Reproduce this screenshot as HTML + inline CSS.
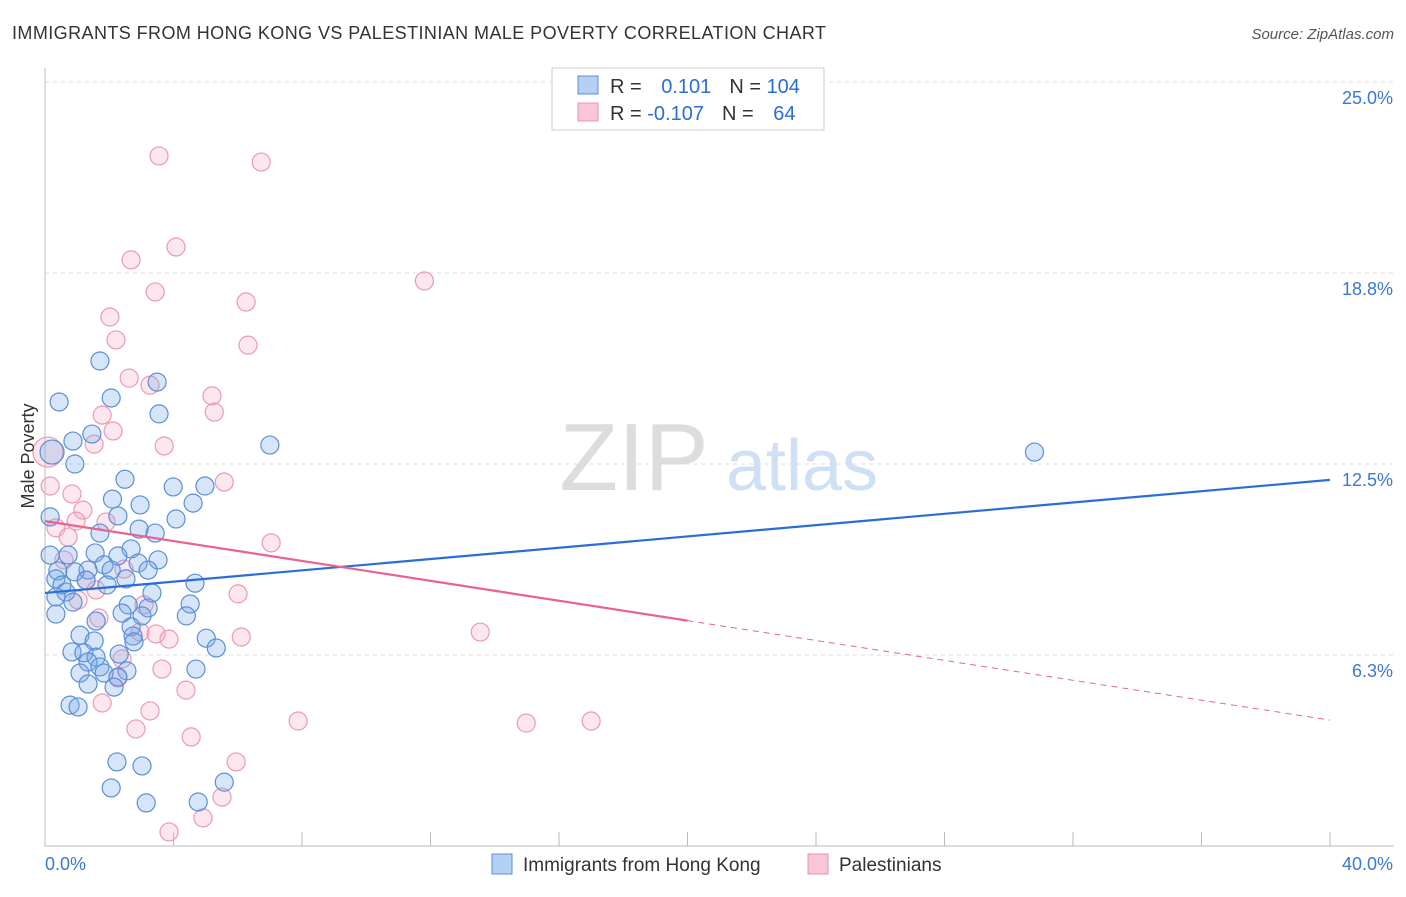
<!DOCTYPE html>
<html><head><meta charset="utf-8"><style>
body{margin:0;background:#fff;font-family:"Liberation Sans",sans-serif;}
svg text{font-family:"Liberation Sans",sans-serif;}
</style></head><body>
<svg id="chart" width="1406" height="892" xmlns="http://www.w3.org/2000/svg">
<text x="12" y="39" font-size="18" fill="#333" textLength="814">IMMIGRANTS FROM HONG KONG VS PALESTINIAN MALE POVERTY CORRELATION CHART</text>
<text x="1394" y="39" font-size="15" fill="#555" font-style="italic" text-anchor="end">Source: ZipAtlas.com</text>
<g>
<text x="634" y="490" font-size="96" fill="#ddd" font-family="Liberation Serif" text-anchor="middle">ZIP</text>
<text x="802" y="490" font-size="72" fill="#cfe0f5" text-anchor="middle">atlas</text>
</g>
<g id="grid"></g>
<g id="axes"></g>
<g id="pts"></g>
<g id="trends"></g>
<text transform="translate(34,456) rotate(-90)" font-size="18" fill="#333" text-anchor="middle">Male Poverty</text>
<g>
<rect x="552" y="68" width="272" height="62" fill="#fff" stroke="#ccc"/>
<rect x="578" y="76" width="20" height="18" fill="#b5d0f5" stroke="#5b8fd9"/>
<rect x="578" y="103" width="20" height="18" fill="#f9c6d5" stroke="#e891aa"/>
<text x="610" y="93" font-size="20" fill="#333">R = <tspan fill="#2a6dd6" dx="14">0.101</tspan><tspan dx="18" fill="#333">N = </tspan><tspan fill="#2a6dd6">104</tspan></text>
<text x="610" y="120" font-size="20" fill="#333">R = <tspan fill="#2a6dd6">-0.107</tspan><tspan dx="18" fill="#333">N = </tspan><tspan fill="#2a6dd6" dx="14">64</tspan></text>
</g>
<g>
<rect x="492" y="854" width="20" height="20" fill="#b5d0f5" stroke="#5b8fd9"/>
<text x="523" y="871" font-size="19" fill="#333">Immigrants from Hong Kong</text>
<rect x="808" y="854" width="20" height="20" fill="#f9c6d5" stroke="#e891aa"/>
<text x="839" y="871" font-size="19" fill="#333">Palestinians</text>
</g>
</svg>
<script>
const yTicks=[25,18.75,12.5,6.25];
const yTickLabels=["25.0%","18.8%","12.5%","6.3%"];
const xTickVals=[0,4,8,12,16,20,24,28,32,36,40];
const blueX=[1.71,0.44,2.06,3.49,3.55,0.87,1.46,0.93,7.0,30.8,2.49,2.1,2.96,3.99,4.98,4.61,4.08,2.27,0.16,2.93,3.43,1.71,2.68,3.52,0.72,1.56,2.27,0.16,1.84,2.9,1.34,0.4,0.93,2.06,3.21,0.34,1.28,2.52,0.53,1.93,4.67,0.65,0.34,0.87,3.33,4.52,2.59,3.21,0.34,2.4,3.02,4.4,1.59,2.68,1.09,5.02,1.53,2.74,2.77,5.33,0.84,1.21,1.59,1.34,2.31,1.71,4.7,1.09,1.84,2.55,2.27,1.34,2.15,0.78,1.03,2.24,3.02,2.06,3.15,4.77,5.58,0.22];
const blueY=[15.87,14.53,14.66,15.18,14.14,13.25,13.48,12.5,13.12,12.89,12.0,11.35,11.16,11.75,11.78,11.22,10.7,10.8,10.77,10.37,10.24,10.24,9.72,9.36,9.52,9.59,9.49,9.52,9.2,9.26,9.03,9.0,8.97,9.03,9.03,8.74,8.7,8.74,8.54,8.54,8.6,8.31,8.15,7.98,8.28,7.92,7.89,7.79,7.59,7.62,7.53,7.53,7.36,7.17,6.9,6.8,6.71,6.87,6.68,6.48,6.35,6.32,6.18,6.02,6.28,5.86,5.79,5.66,5.66,5.73,5.53,5.3,5.2,4.61,4.55,2.75,2.62,1.9,1.41,1.44,2.09,12.89];
const pinkX=[3.55,6.73,4.08,2.68,11.81,3.43,6.26,2.02,6.32,2.21,2.62,3.27,5.2,5.27,1.78,2.12,3.71,1.53,0.09,0.16,5.58,0.84,1.18,0.97,1.9,0.34,0.72,7.04,0.59,2.46,1.28,1.59,1.03,6.01,3.08,1.68,13.55,2.96,3.46,3.86,6.11,2.4,3.64,2.27,4.39,1.78,3.27,7.88,14.98,17.0,2.83,4.55,5.95,5.51,4.92,3.86];
const pinkY=[22.58,22.38,19.6,19.18,18.49,18.13,17.8,17.31,16.39,16.56,15.31,15.08,14.73,14.2,14.1,13.58,13.09,13.15,12.89,11.78,11.91,11.52,10.99,10.63,10.6,10.41,10.11,9.92,9.36,9.06,8.7,8.38,8.05,8.25,7.89,7.46,7.0,7.0,6.94,6.77,6.84,6.12,5.79,5.5,5.1,4.68,4.42,4.09,4.02,4.09,3.83,3.57,2.75,1.6,0.92,0.46];
const blueTrend=[8.28,11.98];
const pinkTrend=[10.63,4.12];
const NS="http://www.w3.org/2000/svg";
const X=v=>45+v*1285/40, Y=v=>846-v*30.56;
function mk(t,a,p){const e=document.createElementNS(NS,t);for(const k in a)e.setAttribute(k,a[k]);p.appendChild(e);return e;}
const grid=document.getElementById('grid'),axes=document.getElementById('axes'),pts=document.getElementById('pts'),tr=document.getElementById('trends');
yTicks.forEach((v,i)=>{
 const l=mk('line',{x1:45,x2:1394,y1:Y(v),y2:Y(v),stroke:'#ddd','stroke-dasharray':'4,4'},grid);
 
 
 const t=mk('text',{x:1393,y:Y(v)+22,'font-size':18,fill:'#3a78d4','text-anchor':'end'},grid);
 t.textContent=yTickLabels[i];
 
 
});
const ax=mk('path',{d:'M45,68V846H1394',stroke:'#bbb',fill:'none'},axes);


xTickVals.forEach(v=>{const l=mk('line',{x1:X(v),x2:X(v),y1:832,y2:846,stroke:'#bbb'},axes);
 
 });
[[0,'0.0%','start',45],[40,'40.0%','end',1393]].forEach(a=>{const t=mk('text',{x:a[3],y:870,'font-size':18,fill:'#3a78d4','text-anchor':a[2]},axes);t.textContent=a[1];
 
 });
pinkX.forEach((x,i)=>{const c=mk('circle',{cx:X(x),cy:Y(pinkY[i]),r:(i===18?15:9),fill:'rgba(244,170,195,0.28)',stroke:'#eb9ab2','stroke-width':1.2},pts);
 
 });
blueX.forEach((x,i)=>{const c=mk('circle',{cx:X(x),cy:Y(blueY[i]),r:(x<0.25&&blueY[i]>12?12:9),fill:'rgba(120,170,232,0.3)',stroke:'#5b8fd9','stroke-width':1.2},pts);
 
 });
const bl=mk('line',{x1:X(0),y1:Y(blueTrend[0]),x2:X(40),y2:Y(blueTrend[1]),stroke:'#2a6dd6','stroke-width':2.2},tr);


const pm=pinkTrend[0]+(pinkTrend[1]-pinkTrend[0])*0.5;
const pl=mk('line',{x1:X(0),y1:Y(pinkTrend[0]),x2:X(20),y2:Y(pm),stroke:'#e8648e','stroke-width':2.2},tr);


const pd=mk('line',{x1:X(20),y1:Y(pm),x2:X(40),y2:Y(pinkTrend[1]),stroke:'#e8648e','stroke-width':1,'stroke-dasharray':'6,5'},tr);


</script>
</body></html>
